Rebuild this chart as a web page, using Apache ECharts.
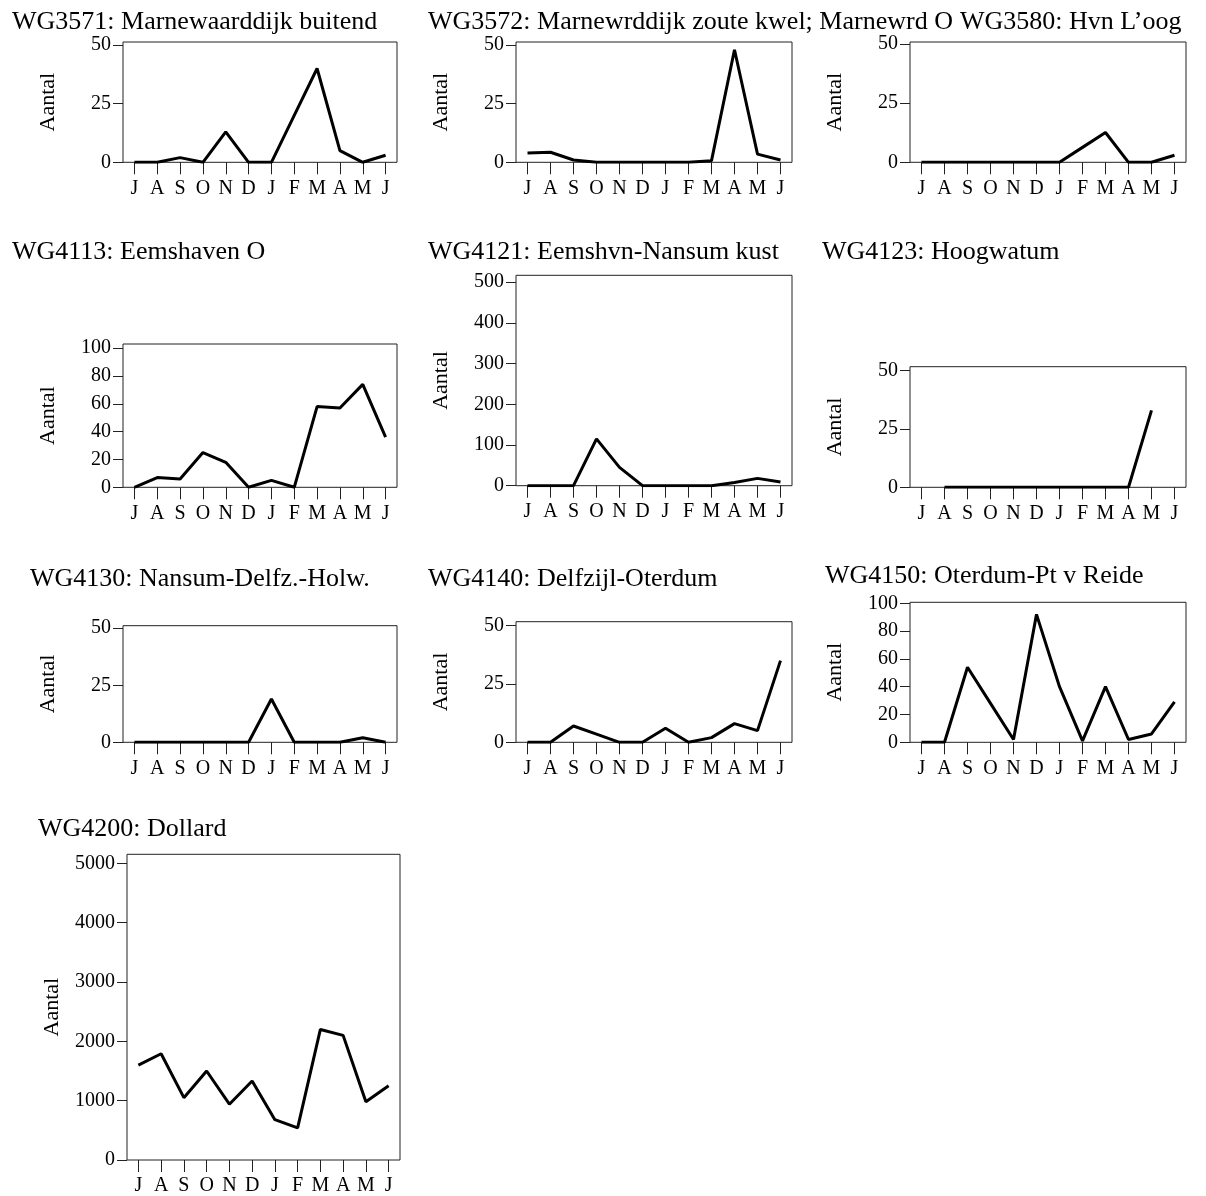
<!DOCTYPE html>
<html>
<head>
<meta charset="utf-8">
<script src="https://cdn.jsdelivr.net/npm/echarts@6/dist/echarts.min.js"></script>
<style>
html,body{margin:0;padding:0;background:#fff;}
#c{width:1206px;height:1196px;}
</style>
</head>
<body>
<div id="c"></div>
<script>
var months = ['J','A','S','O','N','D','J','F','M','A','M','J'];

var titles = [
  'WG3571: Marnewaarddijk buitend',
  'WG3572: Marnewrddijk zoute kwel; Marnewrd O',
  'WG3580: Hvn L\u2019oog',
  'WG4113: Eemshaven O',
  'WG4121: Eemshvn-Nansum kust',
  'WG4123: Hoogwatum',
  'WG4130: Nansum-Delfz.-Holw.',
  'WG4140: Delfzijl-Oterdum',
  'WG4150: Oterdum-Pt v Reide',
  'WG4200: Dollard'
];

var wg3571 = [0, 0, 2, 0, 13, 0, 0, 20, 40, 5, 0, 3];
var wg3572 = [4, 4.3, 1, 0, 0, 0, 0, 0, 0.7, 48, 3.5, 1];
var wg3580 = [0, 0, 0, 0, 0, 0, 0, 6.3, 12.6, 0, 0, 3];
var wg4113 = [0, 7, 6, 25, 18, 0, 5, 0, 58, 57, 74, 36];
var wg4121 = [0, 0, 0, 115, 45, 0, 0, 0, 0, 8, 18, 9];
var wg4123 = [null, 0, 0, 0, 0, 0, 0, 0, 0, 0, 33, null];
var wg4130 = [0, 0, 0, 0, 0, 0, 19, 0, 0, 0, 2, 0];
var wg4140 = [0, 0, 7, 3.5, 0, 0, 6, 0, 2, 8, 5, 35];
var wg4150 = [0, 0, 54, 28, 2, 92, 40, 1, 40, 2, 6, 29];
var wg4200 = [1600, 1790, 1050, 1500, 940, 1330, 680, 540, 2200, 2100, 980, 1250];

var ticks50 = [0, 25, 50];
var ticks100 = [0, 20, 40, 60, 80, 100];
var ticks500 = [0, 100, 200, 300, 400, 500];
var ticks5000 = [0, 1000, 2000, 3000, 4000, 5000];

var seriesData = [wg3571, wg3572, wg3580, wg4113, wg4121, wg4123, wg4130, wg4140, wg4150, wg4200];
var tickSets = [ticks50, ticks50, ticks50, ticks100, ticks500, ticks50, ticks50, ticks50, ticks100, ticks5000];
var yMax = [51.3, 51.3, 50.8, 103, 517, 51.7, 51.1, 51.7, 100.7, 5151];

// layout: [left, top, width, height] of each plot box; title [x, y]
var boxes = [
  [123, 42, 274, 120.3],
  [516, 42, 276, 120.3],
  [910, 42, 276, 120.3],
  [123, 344, 274, 143.3],
  [516, 275.3, 276, 210.4],
  [910, 366.7, 276, 120.6],
  [123, 625.7, 274, 116.6],
  [516, 621.7, 276, 120.6],
  [910, 602.3, 276, 140],
  [127, 854.3, 273, 306.4]
];
var titlePos = [
  [12, 9], [428, 9], [960, 9],
  [12, 239], [428, 239], [822, 239],
  [30, 566], [428, 566], [825, 563],
  [38, 816]
];

var FONT = 'Liberation Serif';
var grids = [], xAxes = [], yAxes = [], series = [], titleArr = [];
for (var i = 0; i < seriesData.length; i++) {
  var b = boxes[i];
  grids.push({left: b[0], top: b[1], width: b[2], height: b[3], show: true,
    borderColor: '#222', borderWidth: 1, backgroundColor: 'transparent', containLabel: false});
  titleArr.push({text: titles[i], left: titlePos[i][0], top: titlePos[i][1], padding: 0,
    textStyle: {fontFamily: FONT, fontSize: 26, fontWeight: 'normal', color: '#000'}});
  xAxes.push({type: 'category', gridIndex: i, data: months, boundaryGap: true,
    axisLine: {show: false},
    axisTick: {show: true, alignWithLabel: true, length: 12, lineStyle: {color: '#222', width: 1}},
    axisLabel: {fontFamily: FONT, fontSize: 20, color: '#000', margin: 16, interval: 0},
    splitLine: {show: false}});
  yAxes.push({type: 'value', gridIndex: i, min: 0, max: yMax[i],
    name: 'Aantal', nameLocation: 'middle', nameGap: 64, nameRotate: 90,
    nameTextStyle: {fontFamily: FONT, fontSize: 22, color: '#000'},
    axisLine: {show: false},
    axisTick: {show: true, inside: false, length: 10, customValues: tickSets[i], lineStyle: {color: '#222', width: 1}},
    axisLabel: {fontFamily: FONT, fontSize: 20, color: '#000', margin: 12, customValues: tickSets[i],
      formatter: function (v) { return String(v); }},
    splitLine: {show: false}});
  series.push({type: 'line', xAxisIndex: i, yAxisIndex: i, data: seriesData[i],
    symbol: 'none', connectNulls: false,
    lineStyle: {color: '#000', width: 3}});
}

var chart = echarts.init(document.getElementById('c'), null, {renderer: 'canvas'});
chart.setOption({
  animation: false,
  backgroundColor: '#fff',
  title: titleArr,
  grid: grids,
  xAxis: xAxes,
  yAxis: yAxes,
  series: series
});
</script>
</body>
</html>
